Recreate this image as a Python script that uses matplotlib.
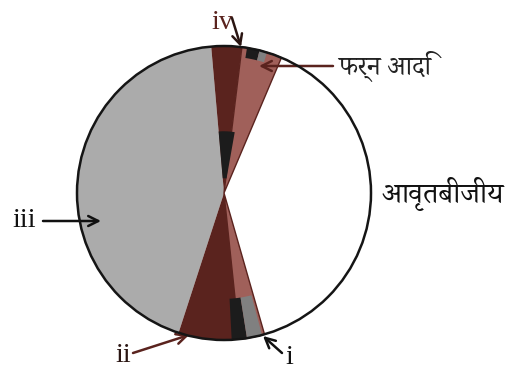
import matplotlib
matplotlib.use('Agg')
import matplotlib.pyplot as plt
import matplotlib.patches as patches

# sector angles (degrees, counter-clockwise from +x)
main_names = ['iii', 'iv', 'ii']
main_start = [95, 83, 252]
main_end = [252, 95, 277]
main_colors = ['#ababab', '#5a231e', '#5a231e']

band_start = [67, 276]
band_end = [83, 286]

rim_start = [273, 279, 76, 73]
rim_end = [279, 285, 81, 76]
rim_colors = ['#1c1c1c', '#808080', '#1c1c1c', '#808080']

labels = ['iv', 'फर्न आदि', 'आवृतबीजीय', 'iii', 'ii', 'i']

deva = ['Noto Serif Devanagari', 'Tiro Devanagari Hindi', 'Noto Sans Devanagari', 'DejaVu Sans']
serif = ['Liberation Serif', 'DejaVu Serif']

fig = plt.figure(figsize=(5.12, 3.74), dpi=100)
ax = fig.add_axes([0, 0, 1, 1])
ax.set_xlim(0, 512)
ax.set_ylim(0, 374)
ax.set_aspect('equal')
ax.axis('off')

c = (224, 181)
r = 147

for t1, t2, col in zip(main_start, main_end, main_colors):
    ax.add_patch(patches.Wedge(c, r, t1, t2, facecolor=col, edgecolor='none', zorder=1))

for t1, t2 in zip(band_start, band_end):
    ax.add_patch(patches.Wedge(c, r, t1, t2, facecolor='#a0605a', edgecolor='#5a231e',
                               linewidth=1.0, zorder=2))

# black patch near centre
ax.add_patch(patches.Wedge(c, 0.42 * r, 80, 95, width=0.32 * r, facecolor='#1c1c1c',
                           edgecolor='none', zorder=3))

for i, (t1, t2, col) in enumerate(zip(rim_start, rim_end, rim_colors)):
    w = 0.28 * r if i < 2 else 0.07 * r
    ax.add_patch(patches.Wedge(c, r, t1, t2, width=w, facecolor=col, edgecolor='none', zorder=3))

ax.add_patch(patches.Circle(c, r, fill=False, edgecolor='#151515', linewidth=1.8, zorder=4))

dred = '#5a231e'
arr = dict(arrowstyle='->', lw=1.8, mutation_scale=18, shrinkA=0, shrinkB=0)

ax.text(222, 352, labels[0], fontsize=20, family=serif, color=dred, ha='center', va='center')
ax.annotate('', xy=(241, 327), xytext=(232, 356), arrowprops=dict(arr, color='#2a1512'))

ax.text(338, 308, labels[1], fontsize=19, family=deva, color='#222222', ha='left', va='center')
ax.annotate('', xy=(259, 308), xytext=(333, 308), arrowprops=dict(arr, color=dred))

ax.text(382, 180, labels[2], fontsize=21, family=deva, color='#111111', ha='left', va='center')

ax.text(24, 154, labels[3], fontsize=20, family=serif, color='#111111', ha='center', va='center')
ax.annotate('', xy=(101, 153), xytext=(43, 153), arrowprops=dict(arr, color='#111111'))

ax.text(123, 19, labels[4], fontsize=20, family=serif, color='#2a1512', ha='center', va='center')
ax.annotate('', xy=(189, 39), xytext=(133, 21), arrowprops=dict(arr, color=dred))

ax.text(289, 17, labels[5], fontsize=20, family=serif, color='#111111', ha='center', va='center')
ax.annotate('', xy=(263, 38), xytext=(282, 21), arrowprops=dict(arr, color='#111111'))

fig.savefig('out.png', dpi=100)
